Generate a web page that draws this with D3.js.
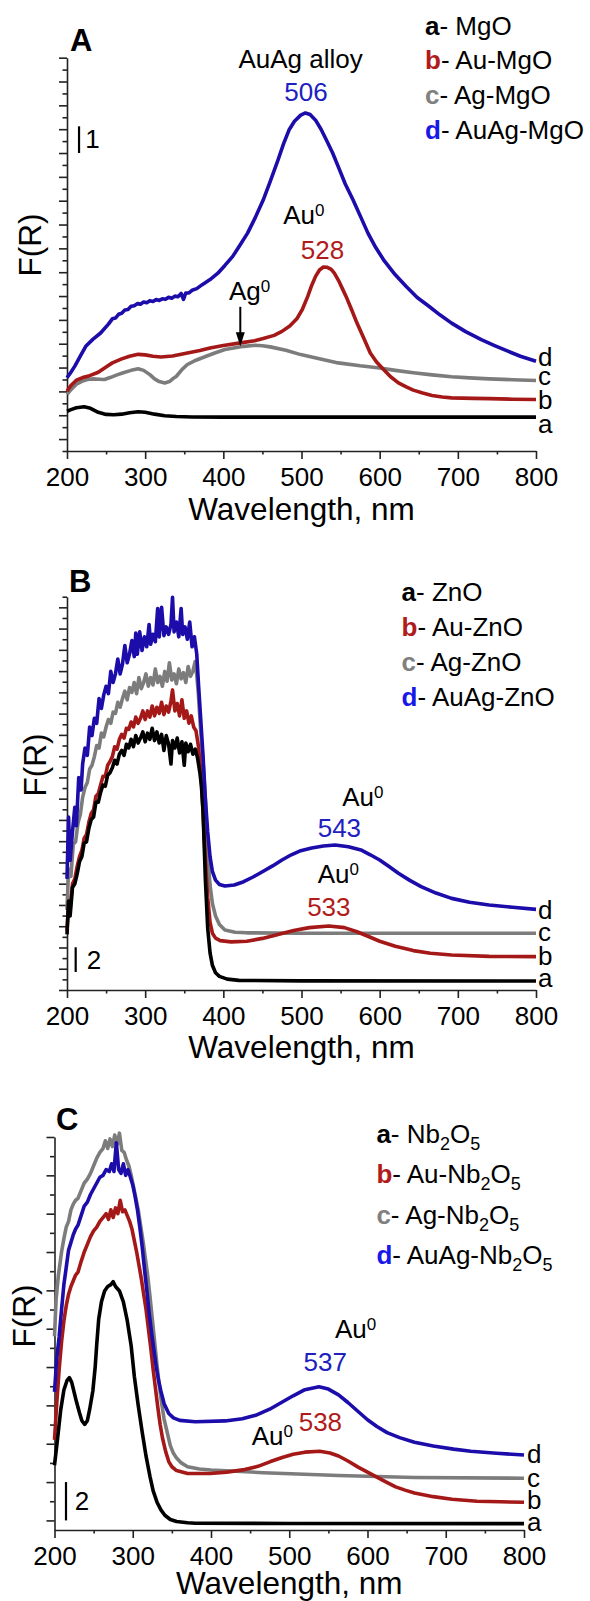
<!DOCTYPE html>
<html>
<head>
<meta charset="utf-8">
<script src="https://cdn.jsdelivr.net/npm/d3@7"></script>
<style>
  body { margin: 0; background: #fff; }
  svg { display: block; font-family: "Liberation Sans", Arial, sans-serif; }
</style>
</head>
<body>
<div id="chart"></div>
<script>
// shared wavelength ticks (nm)
var xTickLabels = [200, 300, 400, 500, 600, 700, 800];
var xMinorTicks = [250, 350, 450, 550, 650, 750];
var curveKeys = ["a", "b", "c", "d"];

//----------------------------------------------------------------------------------------------------
// Panel A - MgO supports, [wavelength, F(R)]
var mgo = [[200,1.49],[205,1.55],[212,1.62],[222,1.66],[230,1.6],[240,1.45],[250,1.37],[260,1.36],[270,1.38],[280,1.43],[291,1.47],[300,1.45],[312,1.38],[325,1.32],[340,1.29],[360,1.275],[400,1.27],[800,1.27]];
var auMgo = [[200,2.24],[205,2.45],[212,2.65],[220,2.75],[229,2.82],[240,2.95],[250,3.15],[258,3.3],[270,3.45],[280,3.55],[291,3.62],[300,3.6],[310,3.55],[320,3.52],[335,3.56],[354,3.67],[370,3.76],[383,3.86],[400,3.95],[422,4.05],[440,4.13],[451,4.21],[465,4.33],[475,4.48],[485,4.68],[494,4.95],[501,5.3],[508,5.79],[513,6.2],[518,6.54],[523,6.78],[528,6.89],[533,6.88],[538,6.8],[542,6.66],[548,6.35],[552,6.1],[557,5.79],[564,5.3],[571,4.79],[580,4.2],[588,3.67],[596,3.33],[605,3.05],[614,2.78],[624,2.55],[634,2.4],[643,2.28],[655,2.17],[667,2.08],[680,2.02],[692,1.99],[720,1.97],[740,1.96],[770,1.94],[800,1.93]];
var agMgo = [[200,2.12],[205,2.3],[212,2.5],[219,2.61],[226,2.68],[234,2.7],[241,2.69],[248,2.68],[256,2.76],[264,2.85],[272,2.93],[282,3.02],[291,3.08],[298,3.02],[306,2.86],[312,2.7],[318,2.6],[325,2.55],[331,2.6],[336,2.72],[340,2.8],[347,3.05],[354,3.24],[365,3.4],[378,3.55],[390,3.68],[402,3.8],[415,3.87],[426,3.92],[441,3.96],[450,3.94],[460,3.9],[480,3.77],[499,3.61],[520,3.47],[547,3.3],[575,3.19],[600,3.11],[620,3.02],[643,2.93],[667,2.85],[692,2.78],[715,2.74],[740,2.7],[770,2.67],[800,2.64]];
var auagMgo = [[200,2.74],[205,2.95],[210,3.18],[217,3.55],[224,3.92],[233,4.18],[243,4.42],[253,4.75],[258,4.95],[262,4.98],[266,5.12],[270,5.16],[274,5.28],[278,5.3],[282,5.42],[286,5.44],[290,5.52],[294,5.5],[298,5.58],[302,5.55],[306,5.63],[310,5.6],[314,5.67],[318,5.64],[322,5.7],[326,5.68],[330,5.76],[334,5.72],[338,5.8],[342,5.78],[346,5.9],[349,5.68],[352,5.92],[356,5.92],[360,6.02],[366,6.08],[373,6.23],[383,6.42],[393,6.66],[402,6.95],[412,7.29],[421,7.7],[431,8.16],[441,8.75],[451,9.4],[460,10.1],[470,10.9],[477,11.5],[484,12.02],[491,12.35],[499,12.58],[505,12.66],[511,12.6],[518,12.39],[525,12.05],[532,11.64],[540,11.15],[547,10.65],[556,10.0],[566,9.4],[576,8.75],[585,8.16],[595,7.62],[605,7.16],[620,6.6],[634,6.16],[648,5.75],[663,5.42],[677,5.1],[692,4.79],[710,4.47],[730,4.17],[747,3.95],[764,3.74],[780,3.55],[800,3.36]];
var legendA = ["MgO", "Au-MgO", "Ag-MgO", "AuAg-MgO"];

//----------------------------------------------------------------------------------------------------
// Panel B - ZnO supports
var zno = [[200,4.5],[202,7.2],[204,6.0],[207,8.3],[210,8.6],[213,9.4],[216,10.4],[219,10.8],[222,11.9],[225,12.0],[228,13.1],[231,13.8],[234,14.0],[237,15.2],[240,15.2],[243,16.0],[246,16.6],[249,16.5],[252,17.4],[255,17.6],[258,18.0],[261,18.6],[264,18.3],[267,19.1],[270,19.4],[273,19.0],[276,19.9],[279,19.6],[282,20.3],[285,19.7],[288,20.6],[291,20.0],[294,20.4],[297,20.9],[300,20.1],[303,20.8],[306,20.3],[309,21.2],[312,20.2],[315,20.9],[318,20.0],[321,20.7],[324,19.4],[327,20.6],[330,19.9],[333,18.3],[335,20.2],[338,19.6],[341,20.4],[344,19.2],[347,20.1],[350,18.2],[352,20.0],[355,19.3],[358,19.9],[361,19.1],[364,19.5],[367,18.8],[370,17.6],[372,16.5],[374,14.5],[377,9],[380,5],[383,3],[386,2],[390,1.4],[395,1.1],[405,0.88],[420,0.78],[500,0.74],[800,0.73]];
var auZno = [[200,4.8],[202,7.0],[204,6.6],[207,8.6],[210,9.0],[213,10.0],[216,10.8],[219,11.3],[222,12.3],[225,12.6],[228,13.6],[231,14.3],[234,14.6],[237,15.7],[240,15.9],[243,16.6],[246,17.3],[249,17.3],[252,18.2],[255,18.5],[258,18.9],[261,19.7],[264,19.5],[267,20.3],[270,20.7],[273,20.4],[276,21.2],[279,21.1],[282,21.7],[285,21.3],[288,22.1],[291,21.6],[294,22.0],[297,22.6],[300,21.9],[303,22.6],[306,22.1],[309,23.0],[312,22.2],[315,22.9],[318,22.4],[321,23.3],[324,22.3],[327,23.0],[330,22.5],[333,23.4],[335,24.3],[338,22.6],[341,23.2],[344,22.2],[347,23.5],[350,22.0],[353,22.6],[356,21.6],[359,22.2],[362,21.3],[365,21.0],[368,19.8],[371,17.8],[374,14.5],[377,10.5],[380,7.5],[383,5.5],[386,4.6],[390,4.2],[396,4.0],[410,3.9],[430,3.95],[450,4.18],[470,4.5],[490,4.82],[510,5.05],[535,5.18],[555,5.05],[571,4.72],[585,4.35],[600,3.95],[620,3.55],[643,3.19],[665,2.98],[692,2.84],[740,2.72],[800,2.7]];
var agZno = [[200,6.5],[202,9.8],[205,9.2],[208,11.8],[211,12.0],[214,13.5],[217,14.2],[220,15.6],[223,16.4],[226,16.8],[229,17.9],[232,18.2],[235,18.9],[238,19.8],[241,19.6],[244,20.8],[247,20.5],[250,21.3],[253,21.9],[256,21.6],[259,22.5],[262,22.4],[265,23.3],[268,22.9],[271,23.6],[274,24.2],[277,23.5],[280,24.5],[283,24.1],[286,24.9],[289,24.0],[292,25.3],[295,24.4],[298,24.9],[301,25.6],[304,24.6],[307,25.3],[310,24.7],[313,26.0],[316,24.9],[319,25.4],[322,24.6],[325,25.8],[328,25.0],[331,26.5],[334,25.1],[337,25.6],[340,24.8],[343,26.0],[346,25.2],[349,25.7],[352,24.9],[355,26.2],[358,25.4],[361,25.8],[364,26.6],[366,25.5],[368,24],[371,21],[374,18.5],[377,15.5],[380,11],[383,8.5],[386,7],[390,6],[395,5.3],[402,4.86],[415,4.68],[430,4.63],[500,4.6],[600,4.59],[800,4.59]];
var auagZno = [[200,9],[202,14.0],[204,10.5],[207,12.8],[210,14.8],[212,13.3],[215,17.2],[218,16.2],[220,18.3],[223,19.6],[226,19.0],[229,21.3],[232,20.6],[235,22.0],[238,21.6],[241,23.6],[244,22.8],[247,23.9],[250,24.6],[253,24.0],[256,25.8],[259,24.9],[262,25.6],[265,26.8],[268,25.6],[271,26.4],[274,27.9],[277,26.5],[280,27.2],[283,28.3],[286,27.0],[288,28.9],[290,27.2],[293,29.0],[296,27.5],[299,28.6],[302,27.8],[305,29.6],[307,28.0],[310,28.8],[313,28.2],[316,30.9],[318,28.6],[321,31.0],[324,28.7],[327,29.4],[330,28.8],[333,29.6],[335,31.8],[337,29.0],[340,29.8],[343,28.6],[346,30.9],[348,28.8],[351,29.4],[354,28.4],[357,29.8],[360,27.8],[363,28.6],[366,27.2],[368,25],[371,22],[374,19],[377,15.5],[380,12.8],[383,10.8],[386,9.6],[390,8.9],[395,8.55],[402,8.42],[414,8.5],[426,8.77],[438,9.15],[450,9.58],[463,10.05],[475,10.53],[487,10.95],[499,11.28],[513,11.5],[528,11.66],[543,11.74],[560,11.6],[576,11.34],[588,10.95],[600,10.53],[612,10.0],[624,9.45],[638,8.9],[653,8.37],[672,7.85],[692,7.42],[715,7.1],[740,6.88],[770,6.7],[800,6.53]];
var legendB = ["ZnO", "Au-ZnO", "Ag-ZnO", "AuAg-ZnO"];

//----------------------------------------------------------------------------------------------------
// Panel C - Nb2O5 supports
var nb = [[200,2.88],[204,4.3],[208,5.78],[212,6.8],[216,7.3],[219,7.45],[222,7.2],[225,6.7],[228,6.2],[232,5.6],[235,5.2],[238.6,5.01],[242,5.2],[245,5.8],[249,6.75],[252,8.0],[254,9.2],[256.5,10.5],[260,11.4],[264,11.97],[268,12.2],[272,12.3],[275,12.45],[278,12.2],[283,11.97],[288,11.4],[293,10.42],[298,9.1],[302,7.52],[307,6.0],[312,4.62],[317,3.35],[322,2.3],[326,1.55],[331,0.95],[336,0.55],[341,0.27],[348,0.05],[356,-0.06],[370,-0.12],[380,-0.15],[500,-0.16],[800,-0.17]];
var auNb = [[200,4.2],[203,6.2],[206,7.9],[209,9.3],[212,10.4],[215,11.2],[218,11.8],[221,12.2],[224,12.5],[227,12.8],[230,12.95],[234,13.5],[238,14],[242,14.4],[246,14.8],[250,15.1],[254,15.3],[258,15.6],[262,15.8],[266,16],[269,15.7],[272,16.2],[275,15.8],[278,16.3],[281,16],[284,16.7],[287,16.1],[290,16.2],[293,15.9],[296,15.6],[299,15.2],[302,14.6],[305,14],[308,13.3],[311,12.6],[314,11.8],[317,11],[320,10],[323,9],[326,7.9],[329,6.9],[332,5.9],[335,5.0],[338,4.3],[342,3.6],[346,3.07],[350,2.8],[356,2.6],[370,2.45],[399,2.45],[420,2.52],[443,2.65],[460,2.82],[476,3.07],[490,3.27],[505,3.45],[520,3.56],[539,3.61],[552,3.52],[563,3.36],[575,3.1],[588,2.78],[600,2.52],[612,2.26],[624,2.0],[636,1.75],[648,1.58],[660,1.43],[684,1.24],[708,1.1],[740,1.0],[770,0.97],[800,0.95]];
var agNb = [[200,9.6],[202,11.5],[205,12.8],[209,14],[212,14.7],[215,15.3],[218,15.6],[221,16.2],[224,16.5],[227,16.7],[230,16.8],[234,17.2],[238,17.6],[242,17.8],[246,18.1],[250,18.5],[254,18.9],[258,19.2],[262,19.4],[265,19.8],[268,19.4],[271,19.9],[274,19.5],[277,20.1],[280,19.6],[283,20.2],[286,19.3],[289,19.2],[292,18.8],[295,18.5],[298,18],[301,17.4],[304,16.8],[307,16.2],[310,15.4],[313,14.6],[316,13.7],[319,12.8],[322,11.7],[325,10.5],[328,9.3],[331,8.1],[334,7],[337,6.1],[340,5.3],[344,4.6],[348,3.9],[352,3.5],[356,3.25],[362,3.0],[370,2.8],[385,2.68],[400,2.63],[467,2.49],[563,2.34],[660,2.24],[800,2.2]];
var auagNb = [[200,6.7],[203,8.5],[206,9.6],[209,11],[212,12.3],[215,13.2],[218,14.1],[221,14.5],[224,14.9],[227,15.2],[230,15.4],[234,15.9],[238,16.4],[242,16.6],[246,17],[250,17.3],[254,17.6],[258,17.9],[262,18],[266,18.3],[270,18.2],[273,18.6],[276,18.2],[279,19.7],[282,18.3],[285,18.1],[288,18.6],[291,18],[294,18.3],[297,17.9],[300,17.5],[303,16.9],[306,16.2],[309,15.3],[312,14.3],[315,13.1],[318,12],[321,10.8],[324,9.8],[327,8.9],[330,8.0],[333,7.3],[336,6.74],[340,6.1],[346,5.58],[352,5.35],[360,5.22],[380,5.15],[418,5.19],[440,5.3],[457,5.48],[475,5.8],[490,6.15],[505,6.5],[520,6.82],[538,6.97],[550,6.85],[563,6.55],[575,6.15],[588,5.68],[600,5.25],[612,4.9],[625,4.58],[641,4.32],[660,4.08],[684,3.88],[710,3.72],[732,3.61],[765,3.5],[800,3.41]];
var legendC = ["Nb_2O_5", "Au-Nb_2O_5", "Ag-Nb_2O_5", "AuAg-Nb_2O_5"];

//----------------------------------------------------------------------------------------------------
var lineColors = { a: "#000000", b: "#a51818", c: "#7c7c7c", d: "#1c0caa" };
var keyColors = { a: "#000000", b: "#b01c1c", c: "#808080", d: "#1818e8" };
var textBlue = "#2020c0", textRed = "#b01c1c";

var panels = [
  {
    letter: "A", letterX: 70, letterY: 50.7,
    left: 67, right: 536, top: 57.7, bottom: 451,
    yDomain: [0, 14.73], tickStart: 0, tickStep: 0.4464, tickCount: 33, majorOdd: true,
    frX: 40.5, frY: 245, titleY: 520,
    series: [agMgo, auMgo, mgo, auagMgo], order: ["c", "b", "a", "d"],
    legend: legendA, legendX: 425, legendY: 34.5, legendDy: 34.9,
    endX: 538, endF: [0.69, 1.56, 2.49, 3.18],
    bar: { lam: 215.4, f0: 11.16, f1: 12.16, label: "1", labelLam: 223.5, labelF: 11.33 },
    notes: [
      { t: "AuAg alloy", lam: 498.8, f: 14.33, c: "#000" },
      { t: "506", lam: 505.7, f: 13.09, c: textBlue },
      { t: "Au^0", lam: 503, f: 8.49, c: "#000" },
      { t: "528", lam: 526.8, f: 7.19, c: textRed },
      { t: "Ag^0", lam: 433.7, f: 5.64, c: "#000" }
    ],
    arrow: { lam: 421.7, f0: 5.4, f1: 3.92 }
  },
  {
    letter: "B", letterX: 69, letterY: 592,
    left: 67, right: 536, top: 596.7, bottom: 990,
    yDomain: [0, 31.85], tickStart: 0, tickStep: 0.8608, tickCount: 37, majorOdd: false,
    frX: 46, frY: 765, titleY: 1058,
    series: [agZno, auZno, zno, auagZno], order: ["c", "b", "a", "d"],
    legend: legendB, legendX: 401.6, legendY: 600.7, legendDy: 35,
    endX: 538, endF: [0.27, 2.02, 3.99, 5.72],
    bar: { lam: 211.1, f0: 1.46, f1: 3.46, label: "2", labelLam: 225.3, labelF: 1.68 },
    notes: [
      { t: "Au^0", lam: 578.4, f: 14.9, c: "#000" },
      { t: "543", lam: 548.5, f: 12.41, c: textBlue },
      { t: "Au^0", lam: 547.1, f: 8.64, c: "#000" },
      { t: "533", lam: 535, f: 5.99, c: textRed }
    ]
  },
  {
    letter: "C", letterX: 56, letterY: 1130,
    left: 54.5, right: 524, top: 1137, bottom: 1530,
    yDomain: [-0.5, 20], tickStart: 0, tickStep: 1, tickCount: 20, majorOdd: false,
    frX: 35, frY: 1316, titleY: 1594,
    series: [agNb, auNb, nb, auagNb], order: ["c", "b", "a", "d"],
    legend: legendC, legendX: 376.4, legendY: 1142.6, legendDy: 40.5,
    endX: 527, endF: [-0.56, 0.6, 1.76, 2.98],
    bar: { lam: 214.7, f0: 0, f1: 2, label: "2", labelLam: 225.8, labelF: 0.52 },
    notes: [
      { t: "Au^0", lam: 584.8, f: 9.5, c: "#000" },
      { t: "537", lam: 546, f: 7.81, c: textBlue },
      { t: "Au^0", lam: 478.3, f: 3.94, c: "#000" },
      { t: "538", lam: 539.8, f: 4.66, c: textRed }
    ]
  }
];

var svg = d3.select("#chart")
  .append("svg")
  .attr("width", 590)
  .attr("height", 1601);

// writes "Au^0" / "Nb_2O_5" as tspans with small raised / lowered digits
function richText(text, str, small) {
  var offset = 0;
  str.split(/([_^]\d)/).forEach(function (part) {
    if (!part) return;
    var t = text.append("tspan");
    if (part[0] === "_" || part[0] === "^") {
      var d = part[0] === "_" ? 7 : -8;
      t.attr("dy", d - offset).attr("font-size", small).text(part[1]);
      offset = d;
    } else {
      t.attr("dy", -offset).text(part);
      offset = 0;
    }
  });
}

function drawPanel(p) {
  var x = d3.scaleLinear().domain([200, 800]).range([p.left, p.right]);
  var y = d3.scaleLinear().domain(p.yDomain).range([p.bottom, p.top]);
  var g = svg.append("g");

  // y ticks (no labels), alternating long / short
  var yMajor = [], yMinor = [];
  d3.range(p.tickCount + 1).forEach(function (k) {
    var v = p.tickStart + k * p.tickStep;
    ((k % 2 === 1) === p.majorOdd ? yMajor : yMinor).push(v);
  });
  g.append("g")
    .attr("transform", "translate(" + p.left + ",0)")
    .call(d3.axisLeft(y).tickValues(yMajor).tickSize(8).tickSizeOuter(0).tickFormat(""));
  g.append("g")
    .attr("transform", "translate(" + p.left + ",0)")
    .call(d3.axisLeft(y).tickValues(yMinor).tickSize(4.5).tickSizeOuter(0).tickFormat(""))
    .call(function (a) { a.select(".domain").remove(); });

  // x axis
  g.append("g")
    .attr("transform", "translate(0," + p.bottom + ")")
    .call(d3.axisBottom(x).tickValues(xTickLabels).tickSize(8).tickPadding(8.5).tickSizeOuter(0).tickFormat(d3.format("d")));
  g.append("g")
    .attr("transform", "translate(0," + p.bottom + ")")
    .call(d3.axisBottom(x).tickValues(xMinorTicks).tickSize(3.5).tickSizeOuter(0).tickFormat(""))
    .call(function (a) { a.select(".domain").remove(); });

  g.selectAll(".domain, .tick line").attr("stroke", "#222").attr("stroke-width", 1.6);
  g.selectAll(".tick text")
    .attr("font-size", 26)
    .attr("font-family", "Liberation Sans, Arial, sans-serif")
    .attr("fill", "#000");

  // curves
  var line = d3.line()
    .x(function (d) { return x(d[0]); })
    .y(function (d) { return y(d[1]); });
  p.series.forEach(function (s, i) {
    g.append("path")
      .datum(s)
      .attr("fill", "none")
      .attr("stroke", lineColors[p.order[i]])
      .attr("stroke-width", 3.6)
      .attr("stroke-linejoin", "round")
      .attr("d", line);
  });

  // curve letters at the right end
  curveKeys.forEach(function (k, i) {
    g.append("text")
      .attr("x", p.endX)
      .attr("y", y(p.endF[i]))
      .attr("font-size", 26)
      .text(k);
  });

  // scale bar
  g.append("line")
    .attr("x1", x(p.bar.lam)).attr("x2", x(p.bar.lam))
    .attr("y1", y(p.bar.f0)).attr("y2", y(p.bar.f1))
    .attr("stroke", "#000").attr("stroke-width", 2.2);
  g.append("text")
    .attr("x", x(p.bar.labelLam))
    .attr("y", y(p.bar.labelF))
    .attr("font-size", 26)
    .text(p.bar.label);

  // peak annotations
  p.notes.forEach(function (n) {
    var t = g.append("text")
      .attr("x", x(n.lam))
      .attr("y", y(n.f))
      .attr("text-anchor", "middle")
      .attr("font-size", 26)
      .attr("fill", n.c);
    richText(t, n.t, 17);
  });

  if (p.arrow) {
    var ax = x(p.arrow.lam), y0 = y(p.arrow.f0), y1 = y(p.arrow.f1);
    g.append("line")
      .attr("x1", ax).attr("x2", ax)
      .attr("y1", y0).attr("y2", y1 - 12)
      .attr("stroke", "#000").attr("stroke-width", 2);
    g.append("path")
      .attr("d", "M" + (ax - 4.5) + "," + (y1 - 14) + "L" + (ax + 4.5) + "," + (y1 - 14) + "L" + ax + "," + y1 + "Z")
      .attr("fill", "#000");
  }

  // legend
  p.legend.forEach(function (name, i) {
    var t = g.append("text")
      .attr("x", p.legendX)
      .attr("y", p.legendY + i * p.legendDy)
      .attr("font-size", 26);
    t.append("tspan").attr("font-weight", "bold").attr("fill", keyColors[curveKeys[i]]).text(curveKeys[i]);
    t.append("tspan").text("- ");
    richText(t, name, 18);
  });

  // panel letter and axis titles
  g.append("text")
    .attr("x", p.letterX).attr("y", p.letterY)
    .attr("font-size", 31).attr("font-weight", "bold")
    .text(p.letter);
  g.append("text")
    .attr("transform", "translate(" + p.frX + "," + p.frY + ") rotate(-90)")
    .attr("text-anchor", "middle")
    .attr("font-size", 31.5)
    .text("F(R)");
  g.append("text")
    .attr("x", (p.left + p.right) / 2).attr("y", p.titleY)
    .attr("text-anchor", "middle")
    .attr("font-size", 31.5)
    .text("Wavelength, nm");
}

panels.forEach(drawPanel);
</script>
</body>
</html>
